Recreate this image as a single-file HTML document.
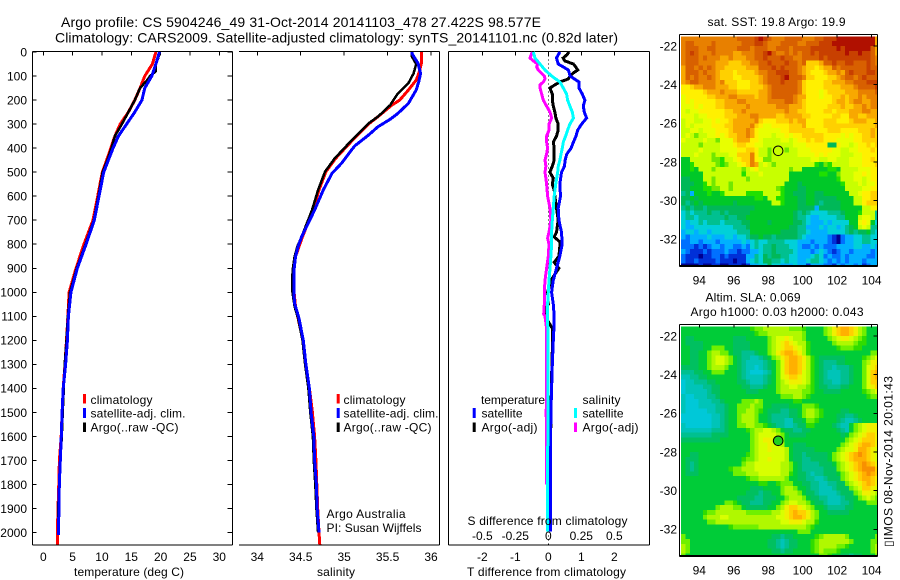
<!DOCTYPE html>
<html lang="en">
<head>
<meta charset="utf-8">
<title>Argo profile CS 5904246_49</title>
<style>
html,body{margin:0;padding:0;background:#fff;}
svg{display:block;}
text{font-family:"Liberation Sans",sans-serif;font-size:12px;fill:#000;}
.title{font-size:14px;}
</style>
</head>
<body>
<svg id="figure" width="900" height="580" viewBox="0 0 900 580" xmlns="http://www.w3.org/2000/svg">
  <rect x="0" y="0" width="900" height="580" fill="#fff"/>
  <text class="title" x="61" y="27" textLength="480" lengthAdjust="spacing">Argo profile: CS 5904246_49 31-Oct-2014 20141103_478 27.422S 98.577E</text>
  <text class="title" x="55" y="42.5" textLength="563" lengthAdjust="spacing">Climatology: CARS2009. Satellite-adjusted climatology: synTS_20141101.nc (0.82d later)</text>

  <g id="temp-panel"></g>
  <g id="sal-panel"></g>
  <g id="diff-panel"></g>
  <g id="sst-map"></g>
  <g id="sla-map"></g>

  <text x="74" y="576" textLength="110" lengthAdjust="spacing">temperature (deg C)</text>
  <text x="317" y="576" textLength="38" lengthAdjust="spacing">salinity</text>
  <text x="467" y="576" textLength="159" lengthAdjust="spacing">T difference from climatology</text>
  <text x="467.5" y="525" textLength="160" lengthAdjust="spacing">S difference from climatology</text>

  <g>
    <rect x="83" y="394" width="3" height="9.5" fill="#f00"/>
    <rect x="83" y="408" width="3" height="10" fill="#00f"/>
    <rect x="83" y="422.5" width="3" height="9.5" fill="#000"/>
    <text x="90.5" y="404" textLength="62" lengthAdjust="spacing">climatology</text>
    <text x="90.5" y="417.5" textLength="95" lengthAdjust="spacing">satellite-adj. clim.</text>
    <text x="90.5" y="431.5" textLength="88" lengthAdjust="spacing">Argo(..raw -QC)</text>
  </g>
  <g>
    <rect x="336.7" y="394" width="3" height="9.5" fill="#f00"/>
    <rect x="336.7" y="408" width="3" height="10" fill="#00f"/>
    <rect x="336.7" y="422.5" width="3" height="9.5" fill="#000"/>
    <text x="343.5" y="404" textLength="62" lengthAdjust="spacing">climatology</text>
    <text x="343.5" y="417.5" textLength="95" lengthAdjust="spacing">satellite-adj. clim.</text>
    <text x="343.5" y="431.5" textLength="88" lengthAdjust="spacing">Argo(..raw -QC)</text>
  </g>
  <text x="326.5" y="518" textLength="79" lengthAdjust="spacing">Argo Australia</text>
  <text x="326.5" y="532" textLength="95" lengthAdjust="spacing">PI: Susan Wijffels</text>

  <g>
    <text x="481" y="404" textLength="64" lengthAdjust="spacing">temperature</text>
    <rect x="472.7" y="408" width="3" height="10" fill="#00f"/>
    <rect x="472.7" y="422.5" width="3" height="9.5" fill="#000"/>
    <text x="481.5" y="417.5" textLength="41" lengthAdjust="spacing">satellite</text>
    <text x="481.5" y="431.5" textLength="56" lengthAdjust="spacing">Argo(-adj)</text>
    <text x="582.5" y="404" textLength="38" lengthAdjust="spacing">salinity</text>
    <rect x="574" y="408" width="3" height="10" fill="#0ff"/>
    <rect x="574" y="422.5" width="3" height="9.5" fill="#f0f"/>
    <text x="582.5" y="417.5" textLength="41" lengthAdjust="spacing">satellite</text>
    <text x="582.5" y="431.5" textLength="56" lengthAdjust="spacing">Argo(-adj)</text>
  </g>

  <text x="707.5" y="26" textLength="138" lengthAdjust="spacing">sat. SST: 19.8 Argo: 19.9</text>
  <text x="705.5" y="301.5" textLength="95" lengthAdjust="spacing">Altim. SLA: 0.069</text>
  <text x="690.5" y="316" textLength="173" lengthAdjust="spacing">Argo h1000: 0.03 h2000: 0.043</text>
  <text transform="translate(892.5,547) rotate(-90)" x="0" y="0" textLength="171" lengthAdjust="spacing">▯IMOS 08-Nov-2014 20:01:43</text>
</svg>

<script>
// ---------- Temperature panel data (deg C) ----------
const tempSatDepth = [0,50,100,150,200,250,300,350,400,450,500,600,700,800,900,1000,1100,1200,1300,1400,1500,1600,1700,1800,1900,2000,2010];
const tempSat = [19.8,19.2,18.5,17.3,16.8,15.6,14.2,12.8,11.9,11.1,10.3,9.5,8.7,7.3,5.8,4.7,4.27,4.1,3.8,3.4,3.2,3.07,2.9,2.73,2.68,2.56,2.56];
const tempClimDepth = [0,50,100,150,200,250,300,350,400,450,500,600,700,800,900,1000,1100,1200,1300,1400,1500,1600,1700,1800,1900,2000,2050];
const tempClim = [19.2,18.6,17.3,16.5,15.6,14.5,13.1,12.2,11.5,10.8,10.05,9.27,8.47,6.94,5.57,4.4,4.2,3.95,3.7,3.4,3.2,3.05,2.75,2.65,2.5,2.4,2.39];
const tempArgoDepth = [0,25,50,80,100,120,150,200,250,300,350,400,450,500,600,700,800,900,1000,1100,1200,1300,1400,1500,1600,1700,1800,1900,2000];
const tempArgo = [19.8,19.6,19.2,19.2,18.2,17.6,16.5,15.6,14.5,13.4,12.2,11.6,10.9,10.1,9.4,8.6,7.2,5.7,4.55,4.2,3.95,3.65,3.5,3.3,3.15,2.9,2.8,2.5,2.5];
const tempTicks = [0,5,10,15,20,25,30];
const depthTicks = [0,100,200,300,400,500,600,700,800,900,1000,1100,1200,1300,1400,1500,1600,1700,1800,1900,2000];

// ---------- Salinity panel data ----------
const salSatDepth = [0,6,47,89,123,158,214,255,280,311,346,391,463,505,574,658,769,810,852,900,949,1000,1046,1108,1200,1300,1400,1500,1600,1700,1800,1900,2000];
const salSat = [35.78,35.78,35.85,35.88,35.86,35.83,35.74,35.62,35.53,35.39,35.28,35.12,34.97,34.86,34.76,34.66,34.51,34.47,34.44,34.425,34.42,34.42,34.43,34.48,34.53,34.56,34.6,34.62,34.65,34.66,34.68,34.69,34.71];
const salClimDepth = [0,47,89,117,158,200,221,269,297,366,443,498,574,658,769,810,852,900,949,1060,1108,1200,1300,1400,1500,1600,1700,1800,1900,2000,2050];
const salClim = [35.89,35.89,35.86,35.83,35.74,35.64,35.55,35.39,35.29,35.1,34.9,34.79,34.71,34.64,34.52,34.48,34.44,34.42,34.41,34.44,34.47,34.525,34.56,34.6,34.635,34.66,34.675,34.685,34.695,34.71,34.72];
const salArgoDepth = [0,19,50,89,130,172,221,269,297,366,443,498,574,658,769,810,852,900,949,1000,1060,1108,1200,1300,1400,1500,1600,1700,1800,1900,2000];
const salArgo = [35.78,35.78,35.83,35.8,35.74,35.62,35.53,35.39,35.28,35.09,34.89,34.78,34.7,34.63,34.51,34.46,34.43,34.41,34.4,34.405,34.43,34.47,34.52,34.55,34.588,34.61,34.64,34.65,34.668,34.68,34.7];
const salTicks = [34,34.5,35,35.5,36];

// ---------- Difference panel data ----------
const diffSatDepth = [0,25,50,75,100,125,150,175,200,225,250,275,300,325,350,375,400,425,450,475,500,550,600,650,700,750,800,850,900,950,1000,1050,1100,1150,1200,1300,1400,1500,1600,1800,1995];
const diffTSat = [0.35,0.25,0.3,0.61,0.66,0.93,0.93,1.03,1.11,1.06,1.09,1.16,1.01,0.89,0.84,0.76,0.69,0.56,0.51,0.49,0.4,0.35,0.37,0.3,0.32,0.4,0.42,0.35,0.25,0.15,0.1,0.15,0.18,0.17,0.15,0.12,0.1,0.08,0.07,0.06,0.06];
const diffSSat = [-0.114,-0.101,-0.063,-0.025,0.025,0.088,0.114,0.139,0.146,0.164,0.182,0.19,0.164,0.146,0.131,0.114,0.106,0.096,0.088,0.076,0.071,0.056,0.045,0.038,0.03,0.025,0.025,0.02,0.013,0.005,0,-0.005,-0.005,-0.004,-0.003,-0.003,-0.003,-0.003,-0.004,-0.005,-0.006];
const diffArgoDepth = [0,12,25,37,50,62,75,87,100,112,125,137,150,175,200,225,250,275,300,325,350,375,400,425,450,475,500,525,550,575,600,650,700,750,770,790,810,850,875,900,925,950,1000,1050,1075,1100,1150,1200,1300,1500,1950];
const diffTArgo = [0.63,0.56,0.45,0.5,0.76,0.83,0.89,0.76,0.66,0.61,0.35,0.2,0.05,0.12,0.12,0.15,0.2,0.23,0.3,0.3,0.25,0.15,0.18,0.18,0.18,0.12,0.05,0.15,0.12,0.18,0.2,0.25,0.3,0.25,0.18,0.35,0.35,0.32,0.18,0.32,0.2,0.08,-0.02,0,-0.12,-0.1,0.12,0.13,0.11,0.08,0.05];
const diffSArgoDepth = [0,25,37,50,62,75,100,112,125,137,150,175,200,225,250,275,300,325,350,375,400,425,450,475,500,525,550,600,650,700,750,775,800,850,900,950,1000,1050,1090,1100,1150,1200,1400,1500,1600,1700,1800];
const diffSArgo = [-0.121,-0.139,-0.114,-0.081,-0.088,-0.076,-0.03,-0.025,-0.038,-0.063,-0.063,-0.05,-0.038,-0.013,0.013,0.025,0.005,0.005,-0.013,-0.013,-0.005,-0.013,-0.025,-0.018,-0.025,-0.018,-0.013,-0.005,0.013,0.02,0.005,-0.005,0.005,0,-0.013,-0.025,-0.03,-0.03,-0.035,-0.025,-0.013,-0.012,-0.013,-0.016,-0.014,-0.014,-0.014];
const diffTTicks = [-2,-1,0,1,2];
const diffSTickLabels = ['-0.5','-0.25','0','0.25','0.5'];
const diffSTicks = [-0.5,-0.25,0,0.25,0.5];

// ---------- Map data: each letter is a colour level from the palettes ----------
const mapLonTicks = [94,96,98,100,102,104];
const mapLatTicks = [-22,-24,-26,-28,-30,-32];
const sstPalette = {
  a:'#000090',b:'#0030d8',c:'#0070ff',d:'#00b0ff',e:'#00d0d8',f:'#00c090',g:'#00b858',h:'#00c828',i:'#20e000',j:'#70e800',
  k:'#c8ff00',l:'#e8ff00',m:'#fff000',n:'#ffd000',o:'#f8a800',p:'#e88000',q:'#d86000',r:'#c84000',s:'#b01000'
};
const slaPalette = {
  a:'#000090',b:'#0030d8',c:'#0070ff',d:'#00c8d8',e:'#00c4b8',f:'#00c090',g:'#00c060',h:'#00cc38',i:'#30dc00',j:'#70f000',
  k:'#b0f800',l:'#d8ff00',m:'#f0f000',n:'#ffd000',o:'#ffb000',p:'#f89000',q:'#d86000',r:'#c84000',s:'#b01000'
};
const argoLon = [98.577];
const argoLat = [-27.422];
const sstGrid = [
"pppppppppppppqqqqrsrqpppqqqqpppqqrrrssssssssso",
"pqqppppqppppppqqqrrqpppqqqqppqqqrrrsssssssssso",
"pqqqppqqpppppqqqpqqqppqqqpqqqqrrrrrrsrssssssqo",
"pqrqpppqppppoopppqqrsqppqpqpqqrqrrrrrrsrrsrrqo",
"pqqqpqpppoopoooppqqrqqqrqqppqqqqrqrrrrrrrrrrqp",
"pqqqppppooonnnooppqqrqqqrqqpqnnnoqqrqqrrqqqrqp",
"oqqpqpqpoonnnnnoooqqqrqrqqqponnmnooqpqqqqqqrqq",
"oqqqpqpponnnmnnnnoppqqrrrqqponmmmnoopoqrqqqrrq",
"oqpqppqponnnmmnnnnopqqqrsqqqpnnmmmnnopqqpqrqqq",
"opqqppppopnnnmmmnnopqqqrqqqpnmmmmnnoooppqqqrrr",
"mmnoopppooonnmmmnnnopqqqqqqpnmmmmnnnnooopqqqqr",
"mmmmmnooopooonnnnnoopqqqqqqpnmmmlmnnnnoooppppq",
"lmmmmmnnoooppoooonoopqqqqqpoommmlmmnnonoopoppp",
"lmlmmmmmnnoooppoooooppppqqponmmmmmmnoonoppoopp",
"lllmlmmmnnooooopoooooopppooonmmmmmnnnonnoopopp",
"lkllmmmmmmnnoopooooooooopoonnmmmmnnmnnnoooppoo",
"lllkllmmmmnnnoooppoooonnoooonnmmmmmnnmmoonnooo",
"kllkkllmlmmnooooopnmmmnnnonoommmmnnnmmmnooonno",
"klkllllmmmnnoooopnmllmmmmnnnommmmnnnnnnnnnnnno",
"kkllklllmmmnooopomlllllmmnnnnnnmmmnnnmmmmnnnon",
"klkjkkllmlmnnoopomlllkllmlmmnnnnnmmmmlmlmmnnon",
"lkkkklkkjlllnooommlkkkkllklmmnmnnmmmllllmmnnnn",
"kkkkjkkkklllmnnmmllkkkkkkklllmmmmmggmllklmmnmn",
"kkkklkkkkllllmmnnmkkjkkkjkklllmmmmmllkkllmmmnm",
"kkklkkkjkkkllnnnpmkkjkkkkkkllllmlmlllkkkllmmmm",
"hhkkkkkjjikklmnnpmljjkkkkkkkkkllkkllkkklllmmnm",
"hhikkkkkjijkklmnpoklkjkkkkkkkkkihjikkkklllmmmn",
"hhihkkkjkkkkkkjklmkkkkkkkjkkhhhhhhiihkkkklllmm",
"hhhhhkkkkkkkkkikkklkkkkkkhhhhhhhiihhjkkkllmlmm",
"gghhhkkjkkkkkkkjkkkkkkkkkhhhhhhhhhhhikkkllklmm",
"ggghhikjkkkjkkkkkkkkkkkkhhhghhhhhhhhhikkklkllm",
"gghhhiijjkkjkkkkkkkkkkjihhhgghhhhhhhhhkkkkllmm",
"fgdhhhihhikkkkkiiiikkkkihhggghhgghhhhhhkklmmnn",
"gghghhhhhhhhhhhhhiihkkiihhhgghhggggghhhhkkmmnn",
"gfghghhhhhhhghhhhhhhhkkihhhgghhgfgggghhhkkmnnn",
"fgfggfggggggggggghhhhhhhhhhggggdggggghhhhhkkmm",
"efefffgffgfggggghhhhhhhhhhgfgfeeeefffghhhikkkf",
"effeffffffgffgghhhhhhhhhhhgffeddeeeeffhhhkllkf",
"edeefefffeffffgghhhhghhhhhggfedddedeeeehhlmlhe",
"eddeeeeeeeeefffghhhhhhhhhggffdddedeedefghklkff",
"deedeedeeeeeefffhhhhhhhggggffeddddeeeefgfgghfe",
"dcddddedddeedeefgghggfgggggfedddddcbacddeeffee",
"ccddcdddcdddddedefeeffffeeedddcdddcbacddeeffee",
"cccbcbcddcddccdcefeffgfffeedccdcdcccddddeedded",
"dcbbbcbcccdccbccddeffgffffedddcdedcbcddcddddcd",
"cbbbabbccbcbbbbddfegfggffeedddefecdccdcddddccd",
"cbbcbbbbcbbbabbdefeggffefeeddeffedcdcdcdddcddd",
"aaaabaabbaabbbabddeegeedddeddbdddccbdcddcdbcdd"
];
const slaGrid = [
"hhhhhhhhhhhhhhhhijjkkkkkkjjjihhhhjkmnoonmkjhhh",
"hhhhhhhhhhhhhhhhhijjkkkkkkkkjhhhhjkmnoonmkjhhh",
"hgghhhhhhhhhggghhhhhjkllmlkkjhhhhhjklmmlkjihhh",
"hgggghhhhhhhgggghhhhjklmnmlkkihhhhhjkkkkjiihhh",
"hhggghhjjjhhgggghhhhjklmnnmlkihhhhhhijjjiihhhh",
"hhgghhjkkjjhggfffghhjkmnoonmkihhhhhhhhhhhhhhjj",
"hhgghhjkllkjhgffeefghjkmnoonmkihgggggghhhhijkl",
"hhgghhjkllkjhgfeeeefghjlnoonmkihgfffgghhhhjkmm",
"gggghhjkkkjhhgfeedefghjlnoonmkihgffefffghhjlmn",
"fffgghhjjjhhhgfedddefhjlnoonlkihgfeeeffghhjlno",
"eeffgghhhhhhhgfeeeefghjlmnnmlkihgfeeeffghhjlno",
"deefffgghhhhhggfeeefghjklmmmlkihgffeeffghhjlnn",
"deeeeffgghhhhhggfffghhjkkllkkjihggfffgghhhjlmn",
"deeeeefgghhhhhhggghhhhjkkkkkjjihhgggghhhhhijkl",
"eddeeeffghhhhhhhhhhhhhhjjjkkjihhhhhhhhhhhhhijj",
"edddeeeffghhhhjjjkjhhhhhhhiihhhhhhhhhhhhhhhhhh",
"edddeeeeffghhjjjkjjhhgggghhhjjjihhhhhhhhhhhhhh",
"edddddeeffghhjjkkjihgggffgghjkkjihhhhgghhhhhhh",
"dddddddeefghhjkkkjhhgffffgghjkkjihhhggffghhhhh",
"dddddddeefghhjkkkjhhgfffeegghjjihhhhgfeefghhhh",
"eddddddeefghhjjkkjjihgffeefggiihhhhgfeehjklmmm",
"eeeeeeefffghhhhijkkllkjhggffgghhhhhhgfehjklmmm",
"fffffffgggghhhhhjkllllkjhgggghhhhhhhhghjklmnnm",
"ggggggggghhhhhhhjklmmlkjhhhhhhhhhhhhhhjklmnnnm",
"hhhhhhhhhhhhhhhhjkllmllkhhggghhhhhhhhjklmnoonm",
"hhhhhhhhhhhhhhhhjkllmlllkhggggghhhhhjkllmoonml",
"hhgghhhhhhhhhhhijkllllllkhggfggggghjklmnoponml",
"hggghhhhhhhhhhijjkllmlllkhggffgggghjklmnooonml",
"hgfghhhhhhhhhhjkkllllllkkjhgffffggghjklmnoponm",
"hgfghhhhhhhijjkkkllllllkkjhgfffffgggjklmnopppn",
"hggghhhhhhhhjjjkkklllllkkihggfeffggghjklmnopon",
"hhhhhhhhhhhhhhhijjkkkkkkjhhggffeefgggjklmnoonm",
"hhhhhhhhhhhhhhhhhhiihhijjjhhggffeeffggjklmnonm",
"hhhhhhhhhhhhhhhhggghhhhjkkjhhgffeeefgggjklnnml",
"hhhhhhhhhhhhhhhgggfgghhjkkkjhggfeeeefgggjkmmlk",
"hhhhhhhhhhhhhggggffggghhjkkkjhggffeeefgghjklkj",
"hhhhhhhhhhjjihggfffgghhjkllkkjhggfeeeffghhhjjj",
"hhhhhhhhjkkkjjhggggghhjkmnnmlkjhhgffffgghhhhhh",
"hhhhhijjkkkkkkkjjjjjjkklmnonnmkjhhggggghhhhhhh",
"hhhhhjkkkllkkkkkkkkkkkllmnoonmkjhhhhhhhhhhhhhh",
"hhhhhhjjkkkkkkkkkkkkkkkllmmmlkkihhhhhhhhhhhhhh",
"hhhhhhhhhhhijjjjjjkkkkkkkkkkkjihhhhhhhhhhhhhhh",
"hhhhhhhhhhhhhhhhhhhhhhhhhhhjjjhhhhhhhhhhhhhhhh",
"jhhhhhhhhhhhhhhhhhhhhggfgghhhhhijkkkkkjhhhhhhj",
"jjhhhhhhhhhhhhhhhhhhggfefgghhhijkkkkkkkjhhhhjj",
"kjhhhhhhhhhhhhhhhhhhggfefgghhhijkkkkjjihhhhhjk",
"kjhhhhhhhhhhhhhhhhhhhggfgghhhhijkjjjihhhhhhhjk",
"jhhhhhhhhhhhhhhhhhhhhhhhhhhhhhhhjjihhggfgghhhj"
];

// ---------- Axis functions ----------
const panelTop = 51.5, panelBottom = 545;
const depthY = d => 52 + d * 0.2403;
const tempX = t => 43.3 + t * 5.867;
const salX = s => 257.3 + (s - 34) * 86.85;
const diffTX = t => 548.3 + t * 33;
const diffSX = s => 548.3 + s * 132;
const lonX = lon => 699.3 + (lon - 94) * 17.23;
const sstLatY = lat => 46 + (-22 - lat) * 19.33;
const slaLatY = lat => 336 + (-22 - lat) * 19.33;

const NS = 'http://www.w3.org/2000/svg';
function line(parent, name, x1, y1, x2, y2) {
  const el = document.createElementNS(NS, 'line');
  
  
  el.setAttribute('x1', x1); el.setAttribute('y1', y1);
  el.setAttribute('x2', x2); el.setAttribute('y2', y2);
  el.setAttribute('stroke', '#000');
  el.setAttribute('stroke-width', '1');
  el.setAttribute('shape-rendering', 'crispEdges');
  parent.appendChild(el);
  return el;
}
function label(parent, name, str, x, y, anchor) {
  const el = document.createElementNS(NS, 'text');
  
  
  el.setAttribute('x', x); el.setAttribute('y', y);
  el.setAttribute('text-anchor', anchor);
  el.textContent = str;
  parent.appendChild(el);
  return el;
}
function profile(parent, name, depths, values, xFn, color, width) {
  const el = document.createElementNS(NS, 'polyline');
  
  
  el.setAttribute('points', depths.map((d, i) => xFn(values[i]).toFixed(1) + ',' + depthY(d).toFixed(1)).join(' '));
  el.setAttribute('fill', 'none');
  el.setAttribute('stroke', color);
  el.setAttribute('stroke-width', width);
  el.setAttribute('shape-rendering', 'crispEdges');
  parent.appendChild(el);
  return el;
}
function cell(parent, name, x, y, w, h, fill) {
  const el = document.createElementNS(NS, 'rect');
  
  
  el.setAttribute('x', x.toFixed(2)); el.setAttribute('y', y.toFixed(2));
  el.setAttribute('width', w.toFixed(2)); el.setAttribute('height', h.toFixed(2));
  el.setAttribute('fill', fill);
  el.setAttribute('shape-rendering', 'crispEdges');
  parent.appendChild(el);
  return el;
}

// ---------- Temperature panel ----------
const tp = document.getElementById('temp-panel');
line(tp, 'temperature-top-axis', 32.5, panelTop, 232.5, panelTop);
line(tp, 'temperature-bottom-axis', 32.5, panelBottom, 232.5, panelBottom);
line(tp, 'depth-left-axis', 32.5, panelTop, 32.5, panelBottom);
line(tp, 'depth-right-axis', 232.5, panelTop, 232.5, panelBottom);
depthTicks.forEach(d => {
  line(tp, 'depth-tick-left', 32.5, depthY(d), 36.5, depthY(d));
  line(tp, 'depth-tick-right', 227.5, depthY(d), 232.5, depthY(d));
  label(tp, 'depth-tick-label', String(d), 27, depthY(d) + 4.3, 'end');
});
tempTicks.forEach(t => {
  line(tp, 'temperature-tick', tempX(t), panelTop, tempX(t), panelTop + 4);
  label(tp, 'temperature-tick-label', String(t), tempX(t), 561, 'middle');
});
profile(tp, 'temperature-climatology-line', tempClimDepth, tempClim, tempX, '#f00', 3);
profile(tp, 'temperature-argo-line', tempArgoDepth, tempArgo, tempX, '#000', 2.5);
profile(tp, 'temperature-satellite-line', tempSatDepth, tempSat, tempX, '#00f', 3);

// ---------- Salinity panel ----------
const sp = document.getElementById('sal-panel');
line(sp, 'salinity-top-axis', 239, panelTop, 439.5, panelTop);
line(sp, 'salinity-bottom-axis', 239, panelBottom, 439.5, panelBottom);
line(sp, 'salinity-right-axis', 439.5, panelTop, 439.5, panelBottom);
salTicks.forEach(s => {
  line(sp, 'salinity-tick', salX(s), panelTop, salX(s), panelTop + 4);
  label(sp, 'salinity-tick-label', String(s), salX(s), 561, 'middle');
});
profile(sp, 'salinity-climatology-line', salClimDepth, salClim, salX, '#f00', 3);
profile(sp, 'salinity-argo-line', salArgoDepth, salArgo, salX, '#000', 2.5);
profile(sp, 'salinity-satellite-line', salSatDepth, salSat, salX, '#00f', 3);

// ---------- Difference panel ----------
const dp = document.getElementById('diff-panel');
line(dp, 'difference-top-axis', 448.5, panelTop, 649.5, panelTop);
line(dp, 'difference-bottom-axis', 448.5, panelBottom, 649.5, panelBottom);
line(dp, 'difference-left-axis', 448.5, panelTop, 448.5, panelBottom);
line(dp, 'difference-right-axis', 649.5, panelTop, 649.5, panelBottom);
diffTTicks.forEach(t => {
  line(dp, 't-difference-tick', diffTX(t), panelTop, diffTX(t), panelTop + 4);
  label(dp, 't-difference-tick-label', String(t), diffTX(t), 561, 'middle');
});
diffSTicks.forEach((s, i) => {
  label(dp, 's-difference-tick-label', diffSTickLabels[i], diffSX(s), 540, 'middle');
});
const zeroLine = line(dp, 'zero-difference-line', diffTX(0), panelTop, diffTX(0), panelBottom);
zeroLine.setAttribute('stroke-dasharray', '1 3');
profile(dp, 't-argo-difference-line', diffArgoDepth, diffTArgo, diffTX, '#000', 3);
profile(dp, 't-satellite-difference-line', diffSatDepth, diffTSat, diffTX, '#00f', 3);
profile(dp, 's-argo-difference-line', diffSArgoDepth, diffSArgo, diffSX, '#f0f', 3);
profile(dp, 's-satellite-difference-line', diffSatDepth, diffSSat, diffSX, '#0ff', 3);

// ---------- Maps ----------
function drawMap(gid, prefix, grid, palette, latY, top, bottom, circleFill) {
  const g = document.getElementById(gid);
  const nCols = 46;
  const lonStep = lonX(93.25) - lonX(93);
  const latStep = latY(-21.75) - latY(-21.5);
  grid.forEach((row, j) => {
    for (let i = 0; i < nCols && i < row.length; i++) {
      const x = lonX(92.95 + i * 0.25);
      const y = latY(-21.5 - j * 0.25);
      const w = Math.min(lonStep, 877.3 - x);
      const h = Math.min(latStep, bottom - y);
      if (w > 0 && h > 0) cell(g, prefix + '-cell', x, y, w, h, palette[row[i]]);
    }
  });
  line(g, prefix + '-top-axis', 679.5, top, 877.5, top);
  line(g, prefix + '-bottom-axis', 679.5, bottom, 877.5, bottom);
  line(g, prefix + '-bottom-axis-inner', 679.5, bottom - 1, 877.5, bottom - 1);
  line(g, prefix + '-left-axis', 679.5, top, 679.5, bottom);
  line(g, prefix + '-right-axis', 877.5, top, 877.5, bottom);
  mapLonTicks.forEach(lon => {
    line(g, prefix + '-lon-tick', lonX(lon), top, lonX(lon), top + 3);
    label(g, prefix + '-lon-label', String(lon), lonX(lon), bottom + 18, 'middle');
  });
  mapLatTicks.forEach(lat => {
    line(g, prefix + '-lat-tick', 873.5, latY(lat), 877.5, latY(lat));
    label(g, prefix + '-lat-label', String(lat), 677, latY(lat) + 4.3, 'end');
  });
  const c = document.createElementNS(NS, 'circle');
  
  
  c.setAttribute('cx', lonX(argoLon[0]));
  c.setAttribute('cy', latY(argoLat[0]));
  c.setAttribute('r', 4.8);
  c.setAttribute('fill', circleFill);
  c.setAttribute('stroke', '#000');
  c.setAttribute('stroke-width', 1);
  g.appendChild(c);
}
drawMap('sst-map', 'sst-map', sstGrid, sstPalette, sstLatY, 34.5, 266.5, '#c8ff00');
drawMap('sla-map', 'sla-map', slaGrid, slaPalette, slaLatY, 324.5, 556.5, '#20d020');
</script>
</body>
</html>
